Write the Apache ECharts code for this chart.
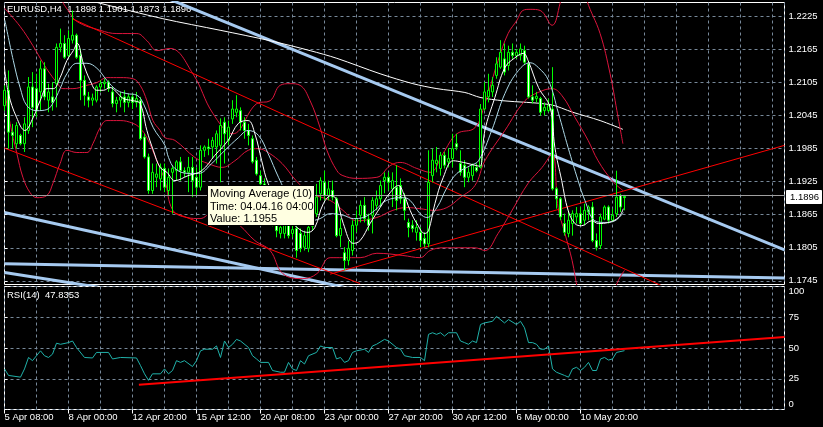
<!DOCTYPE html>
<html><head><meta charset="utf-8">
<script src="https://cdn.jsdelivr.net/npm/echarts@6/dist/echarts.min.js"></script>
<style>html,body{margin:0;padding:0;background:#000}#c{width:823px;height:427px}</style>
</head><body><div id="c"></div>
<script>
// ---------- data ----------
const symbol = 'EURUSD,H4';
const timeLabels = ['5 Apr 08:00','8 Apr 00:00','12 Apr 20:00','15 Apr 12:00','20 Apr 08:00','23 Apr 00:00','27 Apr 20:00','30 Apr 12:00','6 May 00:00','10 May 20:00'];
const labelStep = 16;
const barSlots = 195;
const priceTicks = [1.1745,1.1805,1.1865,1.1925,1.1985,1.2045,1.2105,1.2165,1.2225];
const priceMin = 1.17383, priceMax = 1.22504;
const rsiTicks = [0,25,50,75,100];
// [open, close, low, high]
const candles = [
[1.2063,1.2091,1.2054,1.2100],[1.2091,1.2015,1.1985,1.2127],[1.2015,1.2009,1.1985,1.2030],[1.1994,1.2027,1.1985,1.2033],
[1.2009,1.1994,1.1991,1.2012],[1.1994,1.2030,1.1979,1.2042],[1.2018,1.2097,1.2012,1.2115],[1.2097,1.2060,1.2024,1.2124],
[1.2094,1.2054,1.2042,1.2121],[1.2088,1.2130,1.2054,1.2145],[1.2130,1.2079,1.2073,1.2142],[1.2073,1.2088,1.2051,1.2103],
[1.2079,1.2069,1.2054,1.2106],[1.2103,1.2169,1.2060,1.2176],[1.2169,1.2176,1.2160,1.2203],[1.2176,1.2151,1.2148,1.2191],
[1.2154,1.2185,1.2151,1.2200],[1.2182,1.2191,1.2176,1.2236],[1.2191,1.2151,1.2148,1.2194],[1.2154,1.2109,1.2073,1.2166],
[1.2109,1.2082,1.2063,1.2118],[1.2079,1.2073,1.2060,1.2088],[1.2073,1.2077,1.2063,1.2085],[1.2073,1.2097,1.2069,1.2100],
[1.2097,1.2103,1.2088,1.2109],[1.2103,1.2106,1.2094,1.2112],[1.2106,1.2094,1.2088,1.2109],[1.2088,1.2067,1.2060,1.2097],
[1.2067,1.2073,1.2051,1.2079],[1.2073,1.2079,1.2060,1.2088],[1.2079,1.2069,1.2051,1.2091],[1.2069,1.2079,1.2060,1.2085],
[1.2079,1.2069,1.2057,1.2085],[1.2069,1.2076,1.2060,1.2088],[1.2073,1.2003,1.2000,1.2079],[1.2006,1.1970,1.1967,1.2012],
[1.1970,1.1909,1.1903,1.1976],[1.1909,1.1942,1.1903,1.1958],[1.1933,1.1939,1.1915,1.1958],[1.1930,1.1951,1.1909,1.1958],
[1.1949,1.1915,1.1906,1.1958],[1.1909,1.1933,1.1900,1.1949],[1.1942,1.1949,1.1867,1.1955],[1.1945,1.1961,1.1927,1.1964],
[1.1961,1.1945,1.1927,1.1970],[1.1945,1.1942,1.1933,1.1951],[1.1942,1.1951,1.1906,1.1970],[1.1951,1.1927,1.1897,1.1970],
[1.1933,1.1915,1.1900,1.1951],[1.1915,1.1982,1.1909,1.1991],[1.1982,1.1988,1.1970,1.1991],[1.1988,1.1985,1.1973,1.2003],
[1.1988,1.2000,1.1967,1.2006],[1.1988,1.2012,1.1958,1.2018],[1.1991,1.2027,1.1924,1.2040],[1.2033,1.2012,1.1958,1.2042],
[1.2000,1.2024,1.1991,1.2036],[1.2039,1.2057,1.2030,1.2073],[1.2051,1.2057,1.2042,1.2082],[1.2054,1.2033,1.2018,1.2060],
[1.2033,1.2018,1.2003,1.2042],[1.2018,1.2009,1.1991,1.2030],[1.2003,1.1961,1.1958,1.2009],[1.1964,1.1939,1.1936,1.1970],
[1.1936,1.1921,1.1915,1.1945],[1.1921,1.1898,1.1891,1.1931],[1.1898,1.1873,1.1866,1.1904],[1.1873,1.1851,1.1844,1.1880],
[1.1849,1.1836,1.1824,1.1858],[1.1831,1.1842,1.1822,1.1855],[1.1831,1.1847,1.1822,1.1858],[1.1847,1.1827,1.1822,1.1855],
[1.1831,1.1838,1.1824,1.1847],[1.1840,1.1800,1.1787,1.1851],[1.1831,1.1804,1.1797,1.1840],[1.1806,1.1827,1.1800,1.1836],
[1.1804,1.1842,1.1797,1.1851],[1.1844,1.1869,1.1836,1.1876],[1.1867,1.1897,1.1861,1.1921],[1.1903,1.1927,1.1891,1.1933],
[1.1924,1.1900,1.1891,1.1945],[1.1900,1.1912,1.1891,1.1927],[1.1909,1.1897,1.1891,1.1927],[1.1894,1.1827,1.1824,1.1897],
[1.1827,1.1840,1.1806,1.1858],[1.1796,1.1782,1.1764,1.1806],[1.1782,1.1804,1.1773,1.1818],[1.1800,1.1846,1.1791,1.1855],
[1.1846,1.1858,1.1833,1.1873],[1.1864,1.1882,1.1851,1.1891],[1.1882,1.1858,1.1851,1.1897],[1.1857,1.1846,1.1836,1.1867],
[1.1864,1.1891,1.1831,1.1897],[1.1882,1.1894,1.1873,1.1909],[1.1894,1.1918,1.1879,1.1927],[1.1927,1.1933,1.1904,1.1942],
[1.1933,1.1924,1.1909,1.1942],[1.1912,1.1927,1.1879,1.1942],[1.1915,1.1891,1.1873,1.1955],[1.1918,1.1894,1.1885,1.1931],
[1.1894,1.1873,1.1855,1.1904],[1.1851,1.1842,1.1824,1.1858],[1.1846,1.1840,1.1833,1.1855],[1.1833,1.1842,1.1818,1.1855],
[1.1833,1.1818,1.1806,1.1842],[1.1822,1.1812,1.1806,1.1833],[1.1812,1.1924,1.1806,1.1982],[1.1936,1.1964,1.1924,1.1985],
[1.1958,1.1964,1.1942,1.1988],[1.1949,1.1973,1.1936,1.1979],[1.1973,1.1955,1.1949,1.1979],[1.1961,1.1967,1.1951,1.1986],
[1.1967,1.1985,1.1951,1.2012],[1.1994,1.1988,1.1982,1.2012],[1.1958,1.1942,1.1936,1.1982],[1.1955,1.1933,1.1915,1.1964],
[1.1933,1.1942,1.1924,1.1951],[1.1936,1.1955,1.1927,1.1958],[1.1951,1.1945,1.1942,1.1958],[1.1951,1.2057,1.1949,1.2066],
[1.2057,1.2088,1.2054,1.2106],[1.2079,1.2091,1.2069,1.2121],[1.2088,1.2100,1.2079,1.2115],[1.2118,1.2139,1.2112,1.2151],
[1.2133,1.2160,1.2130,1.2182],[1.2148,1.2124,1.2118,1.2176],[1.2136,1.2160,1.2127,1.2172],[1.2160,1.2154,1.2148,1.2176],
[1.2154,1.2160,1.2148,1.2166],[1.2154,1.2166,1.2145,1.2176],[1.2163,1.2142,1.2139,1.2172],[1.2139,1.2079,1.2076,1.2142],
[1.2079,1.2073,1.2067,1.2100],[1.2076,1.2080,1.2069,1.2088],[1.2076,1.2051,1.2045,1.2079],[1.2054,1.2060,1.2045,1.2069],
[1.2054,1.2063,1.2051,1.2076],[1.2057,1.1912,1.1909,1.2133],[1.1912,1.1894,1.1876,1.1915],[1.1894,1.1861,1.1855,1.1897],
[1.1849,1.1833,1.1827,1.1867],[1.1831,1.1855,1.1824,1.1873],[1.1849,1.1867,1.1827,1.1873],[1.1861,1.1867,1.1849,1.1879],
[1.1867,1.1849,1.1846,1.1879],[1.1855,1.1873,1.1846,1.1885],[1.1870,1.1879,1.1855,1.1882],[1.1879,1.1818,1.1815,1.1888],
[1.1818,1.1806,1.1800,1.1831],[1.1809,1.1861,1.1803,1.1867],[1.1857,1.1879,1.1855,1.1882],[1.1879,1.1855,1.1849,1.1882],
[1.1855,1.1864,1.1852,1.1876],[1.1867,1.1897,1.1861,1.1945],[1.1900,1.1879,1.1870,1.1903],[1.1898,1.1896,1.1873,1.1901]
];
// indicator lines, [bar, value]
const ma10 = [[0,1.2132],[1,1.2085],[3,1.2042],[5.1,1.2018],[7.2,1.2042],[8.9,1.2072],[10.6,1.2094],[12.2,1.2094],[13.9,1.2114],[15.6,1.2145],[17.2,1.2163],[18.2,1.2176],[19.7,1.2140],[21.4,1.2109],[23.1,1.2091],[24.7,1.2091],[26.4,1.2096],[28.1,1.2087],[29.7,1.2076],[32.2,1.2072],[33.9,1.2067],[35.6,1.2018],[37.2,1.1982],[38.9,1.1951],[40.6,1.1942],[42.6,1.1927],[45.9,1.1936],[49.3,1.1945],[52.6,1.1973],[55.9,1.2000],[58.5,1.2031],[60.9,1.2036],[62.6,1.2012],[64.3,1.1963],[65.9,1.1922],[68.9,1.1882],[71.9,1.1851],[74.3,1.1836],[75.9,1.1833],[77.6,1.1842],[79.7,1.1885],[81.8,1.1900],[83.1,1.1891],[84.7,1.1849],[87.2,1.1813],[88.9,1.1818],[91.4,1.1849],[93.9,1.1878],[96.4,1.1905],[98.5,1.1918],[99.7,1.1905],[101.4,1.1873],[103.1,1.1849],[105.1,1.1831],[106,1.1836],[107.6,1.1885],[109.7,1.1933],[112.2,1.1963],[114.7,1.1960],[118.1,1.1954],[118.9,1.1953],[120.1,1.2018],[122.6,1.2078],[125.1,1.2132],[127.6,1.2150],[129.7,1.2158],[130.9,1.2145],[133.5,1.2096],[136.4,1.2060],[137.6,1.1987],[139.3,1.1927],[140.9,1.1873],[142.6,1.1849],[144.3,1.1845],[146.8,1.1854],[148.5,1.1849],[151,1.1851],[153.5,1.1860],[154.7,1.1876]];
const maSlow = [[0.1,1.2218],[2.2,1.2145],[3.9,1.2096],[5.6,1.2063],[8.1,1.2054],[10.6,1.2056],[12.2,1.2069],[13.9,1.2094],[15.6,1.2121],[18.1,1.2140],[20.6,1.2140],[23.1,1.2131],[25.6,1.2109],[28.1,1.2091],[30.6,1.2085],[33.1,1.2082],[34.7,1.2067],[37.2,1.2023],[40.1,1.1991],[41,1.1969],[42.6,1.1949],[45.9,1.1940],[48.5,1.1940],[51.8,1.1958],[55.1,1.1982],[58.5,1.2005],[60.9,1.2018],[63.5,1.2009],[65.9,1.1976],[68.5,1.1933],[71.4,1.1891],[73.9,1.1867],[76.4,1.1854],[78.9,1.1858],[81.4,1.1867],[84.7,1.1864],[87.2,1.1858],[89.7,1.1860],[92.6,1.1873],[95.5,1.1891],[99.7,1.1896],[101.4,1.1891],[103.9,1.1867],[105.6,1.1860],[108.1,1.1878],[110.6,1.1914],[113.1,1.1940],[116.4,1.1954],[118.5,1.1963],[121.8,1.2018],[125.1,1.2085],[128.5,1.2127],[131.4,1.2141],[133.5,1.2132],[136,1.2109],[138.5,1.2049],[140.9,1.1987],[143.4,1.1927],[145.1,1.1891],[147.6,1.1854],[150.1,1.1851],[152.6,1.1854],[154.7,1.1869]];
const maLong = [[21.4,1.2254],[23.9,1.2249],[39.6,1.2221],[53.9,1.2200],[66.4,1.2181],[76.4,1.2163],[83.1,1.2149],[93.9,1.2121],[102.1,1.2103],[108.1,1.2094],[115.1,1.2087],[118.9,1.2078],[124.6,1.2072],[136.4,1.2065],[142.1,1.2051],[148.9,1.2036],[154.6,1.2020]];
const bandUpper = [[13.4,1.2281],[14.4,1.2254],[15.9,1.2236],[18.1,1.2216],[23.9,1.2200],[28.1,1.2194],[33.1,1.2194],[35.6,1.2181],[38.1,1.2163],[41.4,1.2167],[47.1,1.2121],[52.1,1.2049],[57.1,1.2012],[63.1,1.2067],[66.4,1.2072],[68.9,1.2100],[71.4,1.2103],[73.9,1.2100],[76.4,1.2072],[78.9,1.2023],[80.6,1.1982],[83.1,1.1945],[84.6,1.1936],[88.1,1.1931],[93.1,1.1933],[96.4,1.1954],[98.9,1.1960],[103.1,1.1949],[106.4,1.1942],[109.6,1.1976],[113.1,1.2012],[117.6,1.2023],[120.1,1.2067],[123.4,1.2145],[125.9,1.2194],[128.1,1.2218],[129.6,1.2236],[131.4,1.2238],[133.9,1.2236],[136.9,1.2209],[138.9,1.2249],[140.1,1.2290],[143.9,1.2308],[145.6,1.2254],[148.9,1.2194],[151.4,1.2121],[153.1,1.2054],[154.6,1.1994]];
const bandMiddle = [[0,1.2240],[3.9,1.2207],[7.1,1.2172],[9.6,1.2141],[11.4,1.2121],[13.1,1.2105],[14.6,1.2094],[17.1,1.2094],[20.6,1.2100],[23.1,1.2105],[25.6,1.2114],[28.9,1.2114],[32.1,1.2112],[33.9,1.2100],[35.6,1.2072],[37.1,1.2036],[38.9,1.2018],[40.1,1.2005],[42.6,1.2000],[47.6,1.1969],[50.9,1.1958],[54.4,1.1951],[57.6,1.1963],[60.9,1.1982],[63.4,1.1985],[65.9,1.1978],[69.4,1.1958],[72.9,1.1927],[76.4,1.1904],[81.4,1.1891],[84.6,1.1873],[88.1,1.1854],[93.1,1.1860],[97.1,1.1873],[100.6,1.1878],[103.9,1.1876],[107.1,1.1873],[110.6,1.1878],[113.9,1.1896],[117.6,1.1918],[120.1,1.1963],[125.1,1.2018],[130.1,1.2072],[133.4,1.2087],[136.9,1.2094],[139.4,1.2081],[142.6,1.2042],[145.9,1.2000],[148.4,1.1963],[151.9,1.1927],[154.6,1.1909]];
const bandLower = [[0,1.2094],[1.4,1.2031],[3.1,1.1976],[4.6,1.1933],[6.4,1.1905],[8.1,1.1896],[10.6,1.1900],[12.1,1.1922],[13.9,1.1958],[15.6,1.1982],[18.1,1.1978],[20.6,1.1978],[22.1,1.1994],[23.9,1.2023],[25.6,1.2036],[28.9,1.2036],[32.1,1.2031],[33.9,1.2022],[35.6,1.2005],[38.1,1.1963],[40.1,1.1927],[42.1,1.1873],[45.6,1.1860],[48.9,1.1858],[52.1,1.1869],[55.1,1.1865],[58.9,1.1845],[62.6,1.1818],[66.4,1.1800],[69.6,1.1758],[74.6,1.1749],[78.1,1.1758],[81.4,1.1787],[84.6,1.1787],[88.9,1.1787],[93.1,1.1795],[99.6,1.1791],[103.9,1.1787],[106.4,1.1800],[109.6,1.1805],[113.9,1.1805],[117.6,1.1805],[120.1,1.1800],[123.4,1.1831],[126.9,1.1873],[130.9,1.1922],[134.4,1.1951],[136.9,1.1976],[138.4,1.1878],[140.1,1.1831],[141.9,1.1782],[143.4,1.1727],[146.4,1.1655],[150.1,1.1673],[153.1,1.1740],[155,1.1764]];
// trend lines: [bar, price] pairs
const redTrends = [
  [[16.9,1.2221],[195,1.1635]],
  [[0,1.1986],[88.9,1.1740]],
  [[81.4,1.1757],[195,1.1991]]
];
const blueTrends = [
  [[40,1.2260],[195,1.1801]],
  [[0,1.1869],[100,1.1709]],
  [[0,1.1776],[195,1.1750]],
  [[0,1.1760],[30,1.1726]]
];
const rsi = [[0,33],[1,27.7],[4,26.3],[5,33],[6,42.3],[7,39.7],[9,47.7],[10,43.7],[11,42.3],[12,45],[13,53.9],[14,53],[16,54.4],[17,55.7],[18,50.4],[20,42.3],[22,41.9],[23,46.4],[26,46.4],[27,41.1],[29,42.3],[33,41.9],[34,35.7],[35,29],[36,23.7],[37,29],[39,29],[40,33],[41,29],[42,31.7],[43,39.7],[44,38.3],[45,39.7],[47,34.9],[48,39.7],[49,47.7],[50,49],[52,49],[53,51.7],[54,42.3],[55,55.7],[56,50.4],[57,53],[58,57],[59,55.7],[61,50.4],[62,43.7],[63,41.1],[64,38.3],[66,38.3],[67,31.7],[69,30.3],[70,30.3],[71,38.3],[72,33],[73,31.7],[74,39.7],[75,37],[76,43.7],[78,46.4],[79,51.7],[80,50.4],[82,50.4],[83,41.1],[84,42.3],[85,38.3],[86,39.7],[87,46.4],[88,47.7],[90,49],[91,46.4],[92,51.7],[93,53],[95,57],[96,55.7],[98,50.4],[99,49],[100,43.7],[102,42.3],[104,42.3],[105,39.7],[106,61.1],[107,62.4],[108,61.1],[109,62.4],[110,59.7],[111,62.4],[113,62.4],[114,55.7],[115,54.4],[116,53],[117,55.7],[118,54.4],[119,69.1],[120,70.4],[122,71.7],[123,75.7],[125,70.4],[126,73.1],[128,69.1],[129,71.7],[130,66.4],[131,54.4],[132,54.4],[133,53],[134,49],[135,49],[136,51.7],[137,33],[138,30.3],[140,27.7],[141,26.3],[142,33],[143,34.3],[144,31.7],[145,34.3],[146,38.3],[147,31.7],[148,31.7],[149,41.1],[150,42.3],[151,40.2],[152,41.1],[153,46.4],[155,47.8353]];
const rsiTrend = [[33.6,20.2],[195,58.9]];
const tipText = ['Moving Average (10)','Time: 04.04.16 04:00','Value: 1.1955'];

// ---------- chart ----------
const FONT = 'Liberation Sans';
const FS = 9;
const grid = '#778899';
const last = candles[candles.length-1];
const lastClose = last[1];
const ohlcText = symbol + '  ' + [last[0], last[3], last[2], last[1]].map(v=>v.toFixed(4)).join(' ');
const chart = echarts.init(document.getElementById('c'), null, {renderer:'canvas'});

function lineSeries(data, color, width, xi, yi, smooth, z){
  return {type:'line', data, xAxisIndex:xi, yAxisIndex:yi, showSymbol:false, symbol:'none',
    smooth: smooth, lineStyle:{color, width}, silent:true, animation:false, z: z||3, clip:true};
}
const series = [];
blueTrends.forEach(d=>series.push(lineSeries(d,'#a6caf0',3,0,0,false,2)));
series.push(lineSeries(maLong,'#ffffff',1,0,0,0.3,3));
[bandUpper,bandMiddle,bandLower].forEach(d=>series.push(lineSeries(d,'#dc143c',1,0,0,0.4,3)));
redTrends.forEach(d=>series.push(lineSeries(d,'#ff0000',1,0,0,false,3)));
series.push({type:'candlestick', xAxisIndex:0, yAxisIndex:0, barWidth:2, animation:false, silent:true, z:4,
  data: candles.map((c,i)=>[i,c[0],c[1],c[2],c[3]]), encode:{x:0,y:[1,2,3,4]},
  itemStyle:{color:'#000000', color0:'#ffffff', borderColor:'#00ff00', borderColor0:'#00ff00', borderWidth:1},
  markLine:{silent:true, symbol:'none', label:{show:false}, animation:false,
    lineStyle:{color:'#a0a0a0', type:'solid', width:1}, data:[{yAxis:lastClose}]}
});
series.push(lineSeries(maSlow,'#add8e6',1,0,0,0.4,5));
series.push(lineSeries(ma10,'#ffffff',1,0,0,0.4,5));
series.push(lineSeries(rsi,'#20b2aa',1,1,1,false,3));
series.push(lineSeries(rsiTrend,'#ff0000',2,1,1,false,4));

const axisText = {color:'#ffffff', fontFamily:FONT, fontSize:FS};
const option = {
  backgroundColor:'#000000',
  animation:false,
  grid:[
    {left:4.5, right:38.5, top:2.5, height:282, show:true, borderColor:'#ffffff', borderWidth:1, backgroundColor:'transparent'},
    {left:4.5, right:38.5, top:286.5, height:123, show:true, borderColor:'#ffffff', borderWidth:1, backgroundColor:'transparent'}
  ],
  xAxis:[
    {type:'value', gridIndex:0, min:0, max:barSlots, interval:8, axisLine:{show:false}, axisTick:{show:false}, axisLabel:{show:false},
      splitLine:{show:true, lineStyle:{color:grid, type:[3,3], width:1}}},
    {type:'value', gridIndex:1, min:0, max:barSlots, interval:8, axisLine:{show:false}, axisTick:{show:false}, axisLabel:{show:false},
      splitLine:{show:true, lineStyle:{color:grid, type:[3,3], width:1}}},
    {type:'value', gridIndex:1, min:0, max:barSlots, position:'bottom', axisLine:{show:false},
      axisTick:{show:true, length:4, lineStyle:{color:'#ffffff'}, customValues: timeLabels.map((t,k)=>k*labelStep)},
      axisLabel:Object.assign({show:true, align:'left', margin:3, customValues: timeLabels.map((t,k)=>k*labelStep),
        formatter:(v)=>timeLabels[Math.round(v/labelStep)]||''}, axisText, {fontSize:9.5}),
      splitLine:{show:false}}
  ],
  yAxis:[
    {type:'value', gridIndex:0, position:'right', min:priceMin, max:priceMax, scale:true,
      axisLine:{show:false},
      axisTick:{show:true, length:3, lineStyle:{color:'#ffffff'}, customValues:priceTicks},
      axisLabel:Object.assign({margin:4, customValues:priceTicks, formatter:(v)=>v.toFixed(4)}, axisText, {fontSize:9.5}),
      splitLine:{show:true, lineStyle:{color:grid, type:[3,3], width:1}}},
    {type:'value', gridIndex:1, position:'right', min:0, max:100, interval:25,
      axisLine:{show:false},
      axisTick:{show:true, length:3, lineStyle:{color:'#ffffff'}},
      axisLabel:Object.assign({margin:4, verticalAlignMinLabel:'bottom', verticalAlignMaxLabel:'top'}, axisText, {fontSize:9.5}),
      splitLine:{show:true, lineStyle:{color:grid, type:[3,3], width:1}}}
  ],
  graphic:[
    {type:'text', left:7, top:4, z:1, silent:true, style:{text:ohlcText, fill:'#ffffff', font:'9.5px '+FONT}},
    {type:'text', left:7, top:290, z:1, silent:true, style:{text:'RSI(14)  ' + rsi[rsi.length-1][1].toFixed(4), fill:'#ffffff', font:'9.5px '+FONT}},
    {type:'rect', z:100, silent:true, shape:{x:207.5, y:185.5, width:107, height:40}, style:{fill:'#ffffe1', stroke:'#000000', lineWidth:1}},
    {type:'text', z:101, silent:true, x:210, y:188, style:{text:tipText.join('\n'), fill:'#000000', font:'11px '+FONT, lineHeight:12.5}},
    {type:'rect', z:100, silent:true, shape:{x:786.5, y:190.5, width:35, height:13}, style:{fill:'#ffffff', stroke:'#ffffff', lineWidth:1}},
    {type:'text', z:101, silent:true, x:790, y:192, style:{text:lastClose.toFixed(4), fill:'#000000', font:'9.5px '+FONT}}
  ],
  series
};
chart.setOption(option);
</script></body></html>
